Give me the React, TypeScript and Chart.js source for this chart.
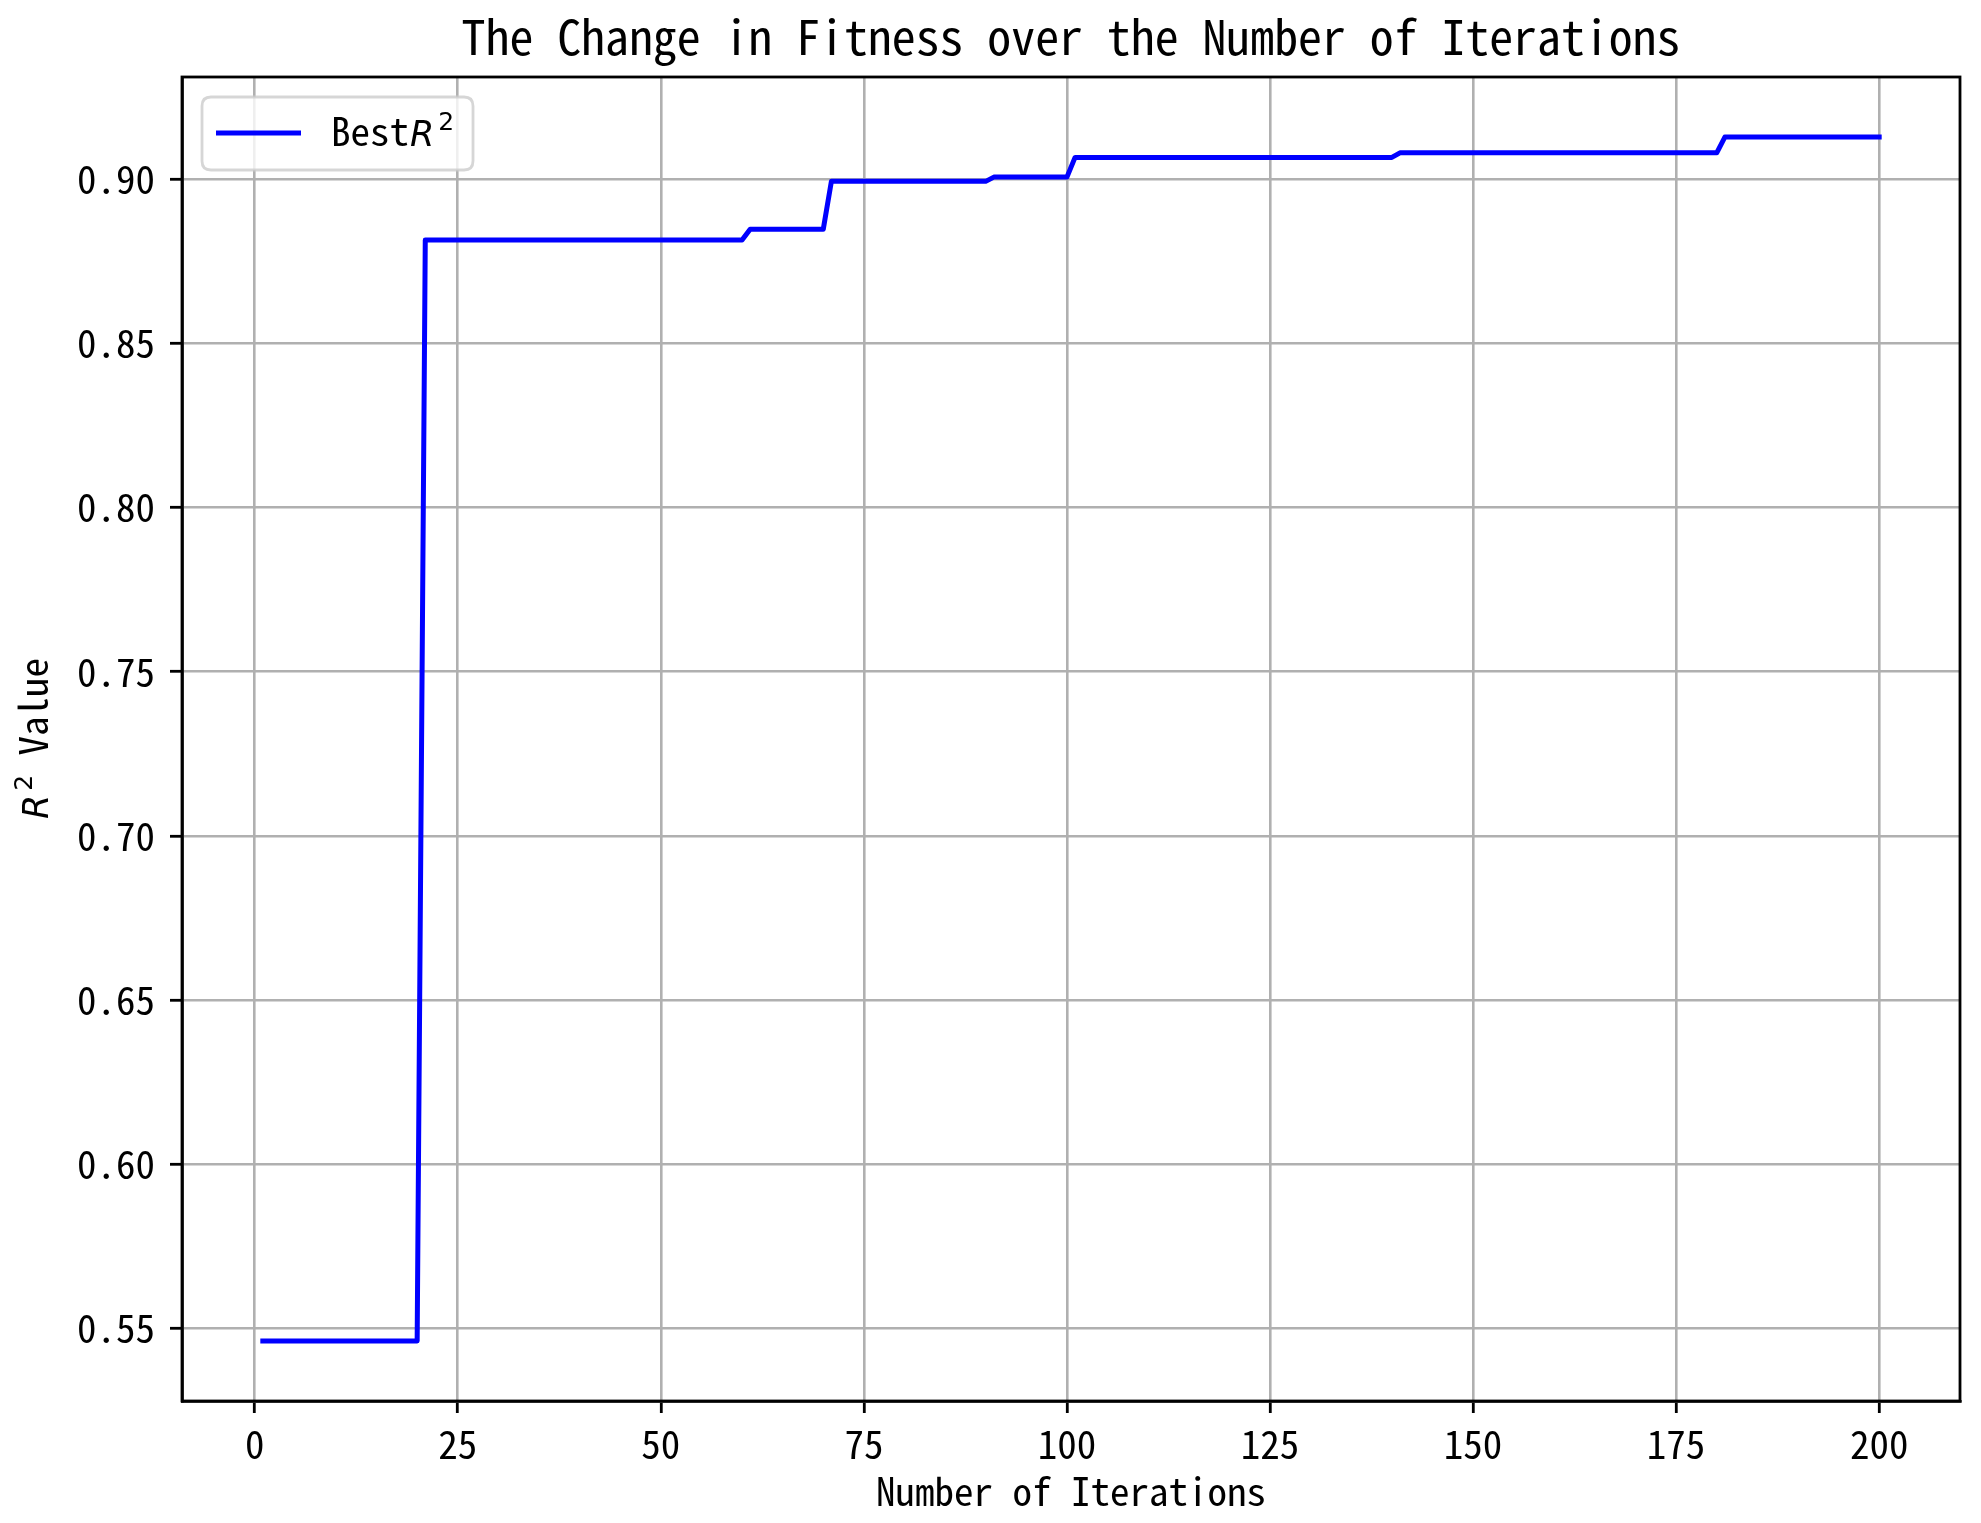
import { useEffect, useRef } from "react";
import { Chart, registerables } from "chart.js";

Chart.register(...registerables);

// ---- data (change points of the best-so-far R² curve) ----
const iterations = [1, 20, 21, 60, 61, 70, 71, 90, 91, 100, 101, 140, 141, 180, 181, 200];
const bestR2 = [
  0.5461, 0.5461, 0.8815, 0.8815, 0.8848, 0.8848, 0.8994, 0.8994,
  0.9007, 0.9007, 0.9067, 0.9067, 0.9081, 0.9081, 0.9129, 0.9129,
];
const xTicks = [0, 25, 50, 75, 100, 125, 150, 175, 200];
const yTicks = [0.55, 0.6, 0.65, 0.7, 0.75, 0.8, 0.85, 0.9];
const xMin = -8.95;
const xMax = 209.95;
const yMin = 0.5278;
const yMax = 0.9312;

const titleText = "The Change in Fitness over the Number of Iterations";
const xLabelText = "Number of Iterations";
const yLabelTail = " Value";
const legendPrefix = "Best";
const mathSymbol = "R";
const mathSup = "2";

const W = 1981;
const H = 1523;
const MONO = "'Noto Sans Mono CJK SC', 'DejaVu Sans Mono', monospace";
const MATH = "'DejaVu Sans', sans-serif";
const TXT = 39;
const TITLE = 47.8;

type Part = { text: string; font: string; dy: number; dx?: number };

function partsWidth(ctx: CanvasRenderingContext2D, parts: Part[]) {
  let w = 0;
  for (const p of parts) {
    ctx.font = p.font;
    w += (p.dx || 0) + ctx.measureText(p.text).width;
  }
  return w;
}

function drawParts(ctx: CanvasRenderingContext2D, parts: Part[], x: number, y: number) {
  let cx = x;
  ctx.textAlign = "left";
  ctx.textBaseline = "alphabetic";
  for (const p of parts) {
    ctx.font = p.font;
    cx += p.dx || 0;
    ctx.fillText(p.text, cx, y + p.dy);
    cx += ctx.measureText(p.text).width;
  }
}

function mathParts(): Part[] {
  return [
    { text: mathSymbol, font: `italic 35px ${MATH}`, dy: 0, dx: 1 },
    { text: mathSup, font: `25px ${MATH}`, dy: -16, dx: 4 },
  ];
}

function roundRect(ctx: CanvasRenderingContext2D, x: number, y: number, w: number, h: number, r: number) {
  ctx.beginPath();
  ctx.moveTo(x + r, y);
  ctx.lineTo(x + w - r, y);
  ctx.quadraticCurveTo(x + w, y, x + w, y + r);
  ctx.lineTo(x + w, y + h - r);
  ctx.quadraticCurveTo(x + w, y + h, x + w - r, y + h);
  ctx.lineTo(x + r, y + h);
  ctx.quadraticCurveTo(x, y + h, x, y + h - r);
  ctx.lineTo(x, y + r);
  ctx.quadraticCurveTo(x, y, x + r, y);
  ctx.closePath();
}

export default function App() {
  const ref = useRef<HTMLCanvasElement>(null);

  useEffect(() => {
    document.body.style.margin = "0";
    const canvas = ref.current;
    if (!canvas) return;

    const decor = {
      id: "decor",
      afterDraw(chart: any) {
        const ctx: CanvasRenderingContext2D = chart.ctx;
        const a = chart.chartArea;
        const cxMid = (a.left + a.right) / 2;
        const cyMid = (a.top + a.bottom) / 2;
        ctx.save();

        // frame
        ctx.strokeStyle = "#000";
        ctx.lineWidth = 2.8;
        ctx.strokeRect(a.left, a.top, a.right - a.left, a.bottom - a.top);

        // title
        ctx.fillStyle = "#000";
        ctx.font = `${TITLE}px ${MONO}`;
        ctx.textAlign = "center";
        ctx.textBaseline = "middle";
        ctx.fillText(titleText, cxMid, 37);

        // x label
        ctx.font = `${TXT}px ${MONO}`;
        ctx.fillText(xLabelText, cxMid, 1491);

        // y label (rotated)
        ctx.save();
        ctx.translate(48, cyMid);
        ctx.rotate(-Math.PI / 2);
        const yParts: Part[] = [...mathParts(), { text: yLabelTail, font: `${TXT}px ${MONO}`, dy: 0 }];
        const yw = partsWidth(ctx, yParts);
        drawParts(ctx, yParts, -yw / 2, 0);
        ctx.restore();

        // legend
        const lx = a.left + 20;
        const ly = a.top + 20;
        const lw = 271;
        const lh = 73;
        roundRect(ctx, lx, ly, lw, lh, 9);
        ctx.fillStyle = "rgba(255,255,255,0.8)";
        ctx.fill();
        ctx.strokeStyle = "rgba(204,204,204,0.8)";
        ctx.lineWidth = 2.8;
        ctx.stroke();

        ctx.beginPath();
        ctx.moveTo(lx + 14, ly + 36);
        ctx.lineTo(lx + 99, ly + 36);
        ctx.strokeStyle = "#0000ff";
        ctx.lineWidth = 5;
        ctx.lineCap = "butt";
        ctx.stroke();

        ctx.fillStyle = "#000";
        const lParts: Part[] = [{ text: legendPrefix, font: `${TXT}px ${MONO}`, dy: 0 }, ...mathParts()];
        drawParts(ctx, lParts, lx + 129, ly + 49);

        ctx.restore();
      },
    };

    const tickFont = { family: MONO, size: TXT };

    const chart = new Chart(canvas, {
      type: "line",
      data: {
        datasets: [
          {
            label: legendPrefix + mathSymbol + "²",
            data: iterations.map((x, i) => ({ x, y: bestR2[i] })),
            borderColor: "#0000ff",
            backgroundColor: "#0000ff",
            borderWidth: 5,
            pointRadius: 0,
            tension: 0,
            fill: false,
            borderJoinStyle: "round",
            borderCapStyle: "square",
          },
        ],
      },
      options: {
        responsive: false,
        animation: false,
        devicePixelRatio: 1,
        layout: { padding: { left: 0, top: 77, right: 21, bottom: 0 } },
        plugins: {
          legend: { display: false },
          title: { display: false },
          tooltip: { enabled: false },
        },
        scales: {
          x: {
            type: "linear",
            min: xMin,
            max: xMax,
            afterFit(s: any) {
              s.height = 122;
            },
            afterBuildTicks(s: any) {
              s.ticks = xTicks.map((v) => ({ value: v }));
            },
            grid: {
              color: "#b0b0b0",
              lineWidth: 2.6,
              tickLength: 12,
              tickColor: "#000",
              tickWidth: 2.8,
              drawTicks: true,
            },
            border: { color: "#000", width: 2.8 },
            ticks: {
              font: tickFont,
              color: "#000",
              padding: 8,
              maxRotation: 0,
              autoSkip: false,
              callback: (v: any) => String(v),
            },
          },
          y: {
            type: "linear",
            min: yMin,
            max: yMax,
            afterFit(s: any) {
              s.width = 182;
            },
            afterBuildTicks(s: any) {
              s.ticks = yTicks.map((v) => ({ value: v }));
            },
            grid: {
              color: "#b0b0b0",
              lineWidth: 2.6,
              tickLength: 12,
              tickColor: "#000",
              tickWidth: 2.8,
              drawTicks: true,
            },
            border: { color: "#000", width: 2.8 },
            ticks: {
              font: tickFont,
              color: "#000",
              padding: 15,
              autoSkip: false,
              callback: (v: any) => Number(v).toFixed(2),
            },
          },
        },
      },
      plugins: [decor],
    } as any);

    return () => chart.destroy();
  }, []);

  return (
    <div style={{ width: W, height: H, background: "#fff" }}>
      <canvas ref={ref} width={W} height={H} style={{ display: "block", width: W, height: H }} />
    </div>
  );
}
